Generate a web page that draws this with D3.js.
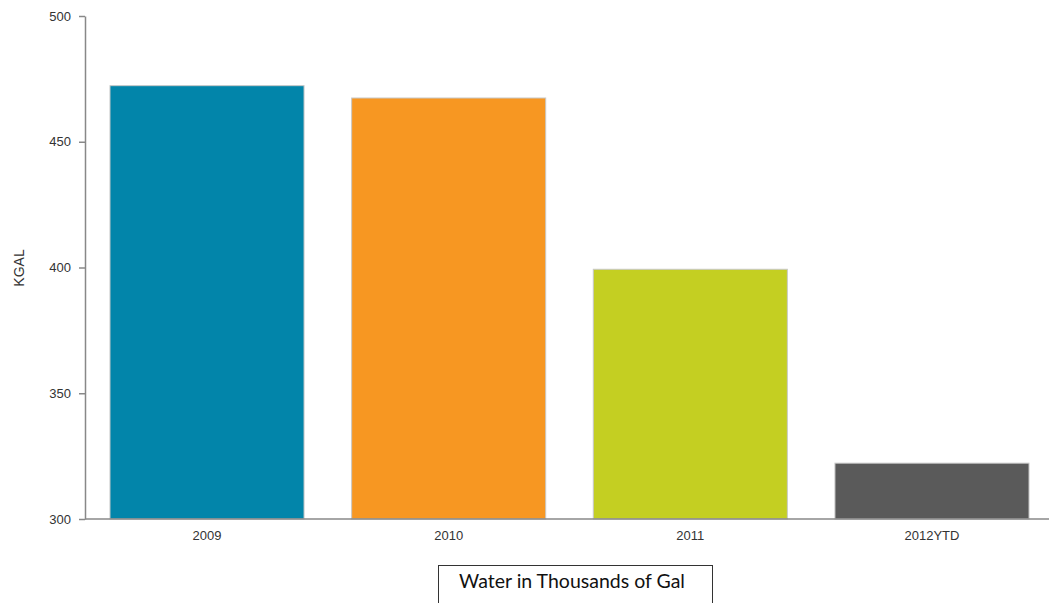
<!DOCTYPE html>
<html><head><meta charset="utf-8">
<script src="https://cdn.jsdelivr.net/npm/d3@7"></script>
<style>body{margin:0;background:#fff}svg{display:block}</style>
</head><body>
<svg id="chart" width="1049" height="603"></svg>
<script>
const categories = ["2009", "2010", "2011", "2012YTD"];
const values = [472.3, 467.4, 399.3, 322.2];
const colors = ["#0285aa", "#f79722", "#c4cf22", "#5a5a5a"];
const yTicks = [300, 350, 400, 450, 500];
const yLabel = "KGAL";
const legendText = "Water in Thousands of Gal";

const svg = d3.select("#chart");
const x = d3.scaleBand().domain(categories).range([85, 1054]).paddingInner(0.197).paddingOuter(0.1034);
const y = d3.scaleLinear().domain([300, 500]).range([519, 16]);

svg.selectAll("rect.bar").data(categories).join("rect")
  .attr("class", "bar")
  .attr("x", d => x(d)).attr("width", x.bandwidth())
  .attr("y", (d, i) => y(values[i])).attr("height", (d, i) => y(300) - y(values[i]))
  .attr("fill", (d, i) => colors[i])
  .attr("stroke", "#c8c8c8").attr("stroke-width", 1);

const yAxis = svg.append("g").attr("transform", "translate(85,0)")
  .call(d3.axisLeft(y).tickValues(yTicks).tickSize(6).tickSizeOuter(0).tickPadding(8));
yAxis.select(".domain").attr("stroke", "#888").attr("stroke-width", 1.5);
yAxis.selectAll(".tick line").attr("stroke", "#888").attr("stroke-width", 1.5);
yAxis.selectAll("text").attr("font-family", "Liberation Sans, Arial, sans-serif").attr("font-size", 13).attr("fill", "#333");

const xAxis = svg.append("g").attr("transform", "translate(0,519)")
  .call(d3.axisBottom(x).tickSize(0).tickPadding(12));
xAxis.select(".domain").attr("stroke", "#888").attr("stroke-width", 1.5).attr("d", "M85,0H1049");
xAxis.selectAll("text").attr("font-family", "Liberation Sans, Arial, sans-serif").attr("font-size", 13).attr("fill", "#333");

svg.append("text").attr("transform", "translate(24,268) rotate(-90)")
  .attr("text-anchor", "middle").attr("font-family", "Liberation Sans, Arial, sans-serif")
  .attr("font-size", 14).attr("fill", "#333").text(yLabel);

svg.append("rect").attr("x", 438.5).attr("y", 565.5).attr("width", 274).attr("height", 45)
  .attr("fill", "#fff").attr("stroke", "#333").attr("stroke-width", 1);
svg.append("text").attr("x", 572).attr("y", 588).attr("text-anchor", "middle")
  .attr("font-family", "Lato, Open Sans, sans-serif").attr("font-size", 19.5).attr("fill", "#111")
  .text(legendText);
</script>
</body></html>
